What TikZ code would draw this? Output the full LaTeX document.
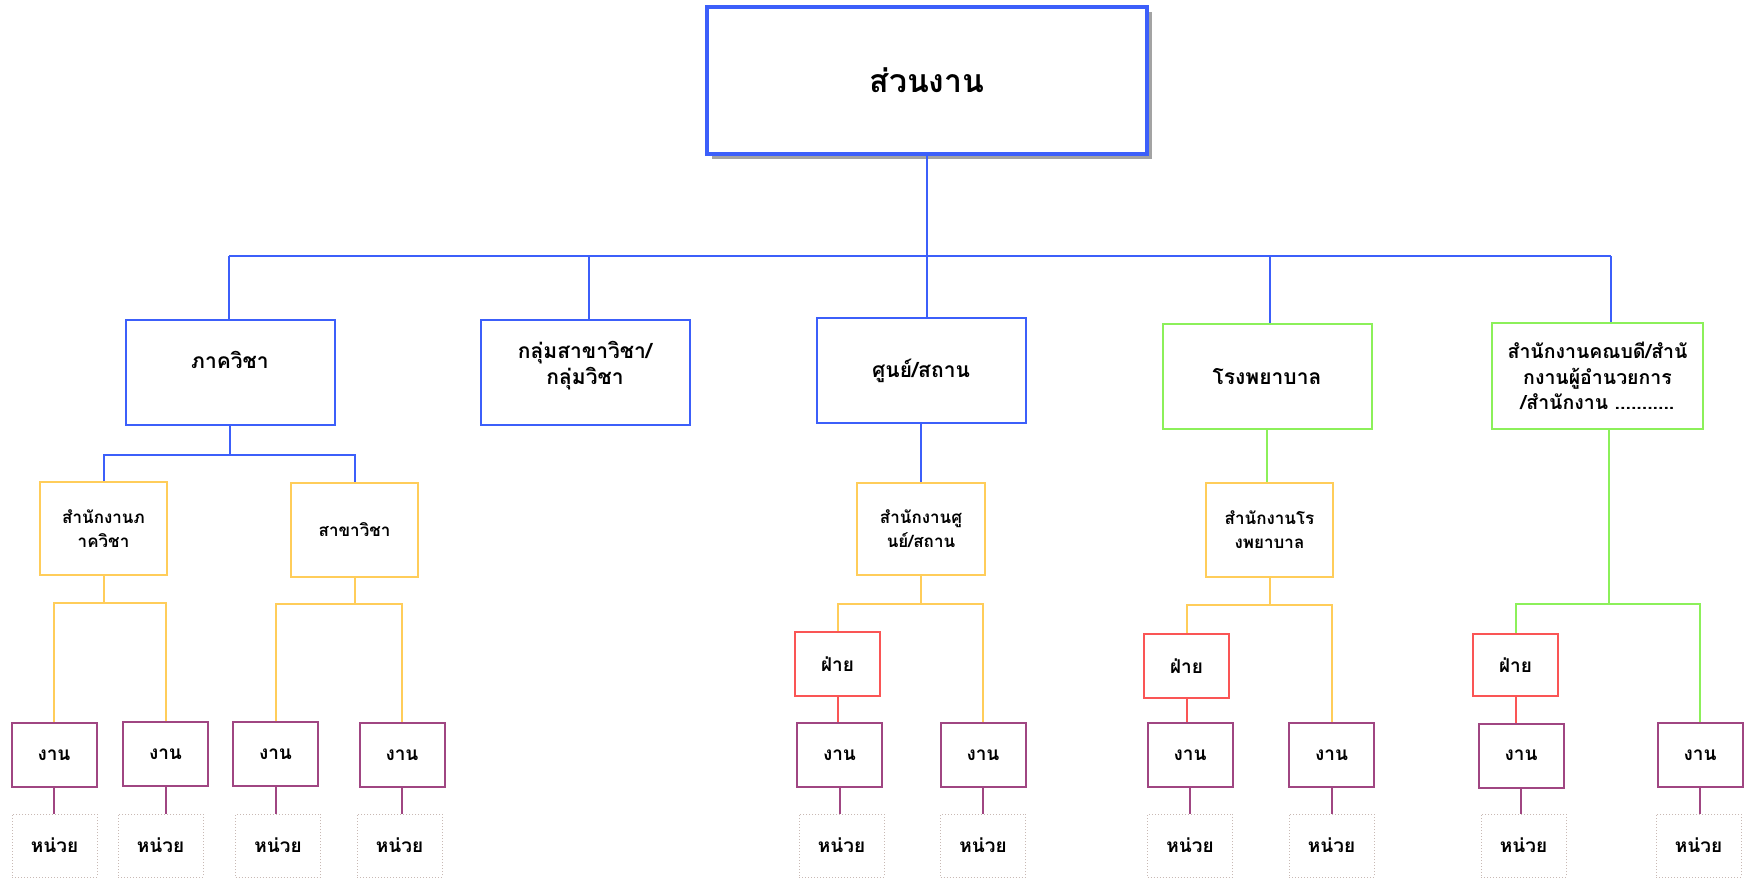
\documentclass[tikz,border=0pt]{standalone}
\usepackage{fontspec}
\newfontfamily\thaifont[Script=Thai]{Loma}
\usetikzlibrary{shadows}
\definecolor{cblue}{RGB}{60,95,250}
\definecolor{cyel}{RGB}{255,205,90}
\definecolor{cgreen}{RGB}{140,240,90}
\definecolor{cred}{RGB}{250,85,85}
\definecolor{cpurp}{RGB}{160,70,130}
\definecolor{cdot}{RGB}{200,185,180}
\tikzset{
  box/.style={draw, rectangle, inner sep=2pt, align=center, text=black, fill=white},
  topbox/.style={box, draw=cblue, line width=4pt, minimum width=440pt, minimum height=147pt,
     font=\thaifont\bfseries\fontsize{32}{38}\selectfont,
     drop shadow={shadow xshift=5pt, shadow yshift=-5pt, fill=black!60, opacity=0.6}},
  lvlone/.style={box, line width=2pt, minimum width=209pt, minimum height=105pt,
     font=\thaifont\bfseries\fontsize{21}{26}\selectfont},
  lvltwo/.style={box, draw=cyel, line width=2pt, minimum width=127pt, minimum height=93pt,
     font=\thaifont\bfseries\fontsize{17}{24}\selectfont},
  faibox/.style={box, draw=cred, line width=2pt, minimum width=85pt, minimum height=64pt,
     font=\thaifont\bfseries\fontsize{19}{22}\selectfont},
  nganbox/.style={box, draw=cpurp, line width=2pt, minimum width=85pt, minimum height=64pt,
     font=\thaifont\bfseries\fontsize{19}{22}\selectfont},
  unitbox/.style={box, draw=cdot, line width=1pt, dotted, minimum width=85pt, minimum height=63pt,
     font=\thaifont\bfseries\fontsize{19}{22}\selectfont},
  bl/.style={draw=cblue, line width=2pt},
  gl/.style={draw=cgreen, line width=2pt},
  yl/.style={draw=cyel, line width=2pt},
  rl/.style={draw=cred, line width=2pt},
  pl/.style={draw=cpurp, line width=2pt},
}
\begin{document}
\begin{tikzpicture}[x=1pt,y=-1pt]
\useasboundingbox (0,0) rectangle (1744,878);
% top
\node[topbox] (top) at (927,80) {ส่วนงาน};
% level 1
\node[lvlone, draw=cblue] (A) at (230,372) {\raisebox{12pt}[\height][\depth]{ภาควิชา}};
\node[lvlone, draw=cblue] (B) at (585,372.5) {\raisebox{7pt}[\height][\depth]{\shortstack{กลุ่มสาขาวิชา/\\กลุ่มวิชา}}};
\node[lvlone, draw=cblue] (C) at (921,370.5) {ศูนย์/สถาน};
\node[lvlone, draw=cgreen] (D) at (1267,376.5) {โรงพยาบาล};
\node[lvlone, draw=cgreen, minimum width=211pt, minimum height=106pt,
      font=\thaifont\bfseries\fontsize{19.5}{25.5}\selectfont] (E) at (1597.5,376) {สำนักงานคณบดี/สำนั\\กงานผู้อำนวยการ\\/สำนักงาน ...........};
% bus
\coordinate (j1) at (229,256);
\coordinate (j2) at (589,256);
\coordinate (j3) at (927,256);
\coordinate (j4) at (1270,256);
\coordinate (j5) at (1611,256);
\draw[bl] (j1) -- (j5);
\draw[bl] (top.south) -- (top.south |- C.north);
\draw[bl] (j1) -- (j1 |- A.north);
\draw[bl] (j2) -- (j2 |- B.north);
\draw[bl] (j4) -- (j4 |- D.north);
\draw[bl] (j5) -- (j5 |- E.north);
% level 2
\node[lvltwo] (A1) at (103.5,528.5) {สำนักงานภ\\าควิชา};
\node[lvltwo, minimum height=94pt] (A2) at (354.5,530) {สาขาวิชา};
\node[lvltwo, minimum width=128pt, minimum height=92pt] (C1) at (921,529) {สำนักงานศู\\นย์/สถาน};
\node[lvltwo, minimum height=94pt] (D1) at (1269.5,530) {สำนักงานโร\\งพยาบาล};
\draw[bl] (A.south) -- ([yshift=-29pt]A.south);
\draw[bl] (A1.north) |- ([yshift=-29pt]A.south) -| (A2.north);
\draw[bl] (C.south) -- (C.south |- C1.north);
\draw[gl] (D.south) -- (D.south |- D1.north);
% fai
\node[faibox] (F1) at (837.5,664) {ฝ่าย};
\node[faibox] (F2) at (1186.5,666) {ฝ่าย};
\node[faibox, minimum height=62pt] (F3) at (1515.5,665) {ฝ่าย};
% ngan
\node[nganbox] (G1) at (54,755) {งาน};
\node[nganbox] (G2) at (165.5,754) {งาน};
\node[nganbox] (G3) at (275.5,754) {งาน};
\node[nganbox] (G4) at (402,755) {งาน};
\node[nganbox] (G5) at (839.5,755) {งาน};
\node[nganbox] (G6) at (983,755) {งาน};
\node[nganbox] (G7) at (1190,755) {งาน};
\node[nganbox] (G8) at (1331.5,755) {งาน};
\node[nganbox] (G9) at (1521,755.5) {งาน};
\node[nganbox] (G10) at (1700,755) {งาน};
% level 2 -> level 3
\draw[yl] (A1.south) -- ([yshift=-27pt]A1.south);
\draw[yl] (G1.north) |- ([yshift=-27pt]A1.south) -| (G2.north);
\draw[yl] (A2.south) -- ([yshift=-26pt]A2.south);
\draw[yl] (G3.north) |- ([yshift=-26pt]A2.south) -| (G4.north);
\draw[yl] (C1.south) -- ([yshift=-28pt]C1.south);
\draw[yl] (F1.north) |- ([yshift=-28pt]C1.south) -| (G6.north);
\draw[yl] (D1.south) -- ([yshift=-27pt]D1.south);
\draw[yl] (F2.north) |- ([yshift=-27pt]D1.south) -| (G8.north);
\coordinate (Eb) at ([xshift=11.5pt]E.south);
\draw[gl] (Eb) -- ([yshift=-174pt]Eb);
\draw[gl] (F3.north) |- ([yshift=-174pt]Eb) -| (G10.north);
\draw[rl] (F1.south) -- (F1.south |- G5.north);
\draw[rl] (F2.south) -- (F2.south |- G7.north);
\draw[rl] (F3.south) -- (F3.south |- G9.north);
% units
\node[unitbox] (U1) at (54.5,845.5) {หน่วย};
\node[unitbox] (U2) at (160.5,845.5) {หน่วย};
\node[unitbox] (U3) at (278,845.5) {หน่วย};
\node[unitbox] (U4) at (399.5,845.5) {หน่วย};
\node[unitbox] (U5) at (841.5,845.5) {หน่วย};
\node[unitbox] (U6) at (983,845.5) {หน่วย};
\node[unitbox] (U7) at (1190,845.5) {หน่วย};
\node[unitbox] (U8) at (1331.5,845.5) {หน่วย};
\node[unitbox] (U9) at (1523.5,845.5) {หน่วย};
\node[unitbox] (U10) at (1698.5,845.5) {หน่วย};
\foreach \g/\u in {G1/U1,G2/U2,G3/U3,G4/U4,G5/U5,G6/U6,G7/U7,G8/U8,G9/U9,G10/U10}
  \draw[pl] (\g.south) -- (\g.south |- \u.north);
\end{tikzpicture}
\end{document}
